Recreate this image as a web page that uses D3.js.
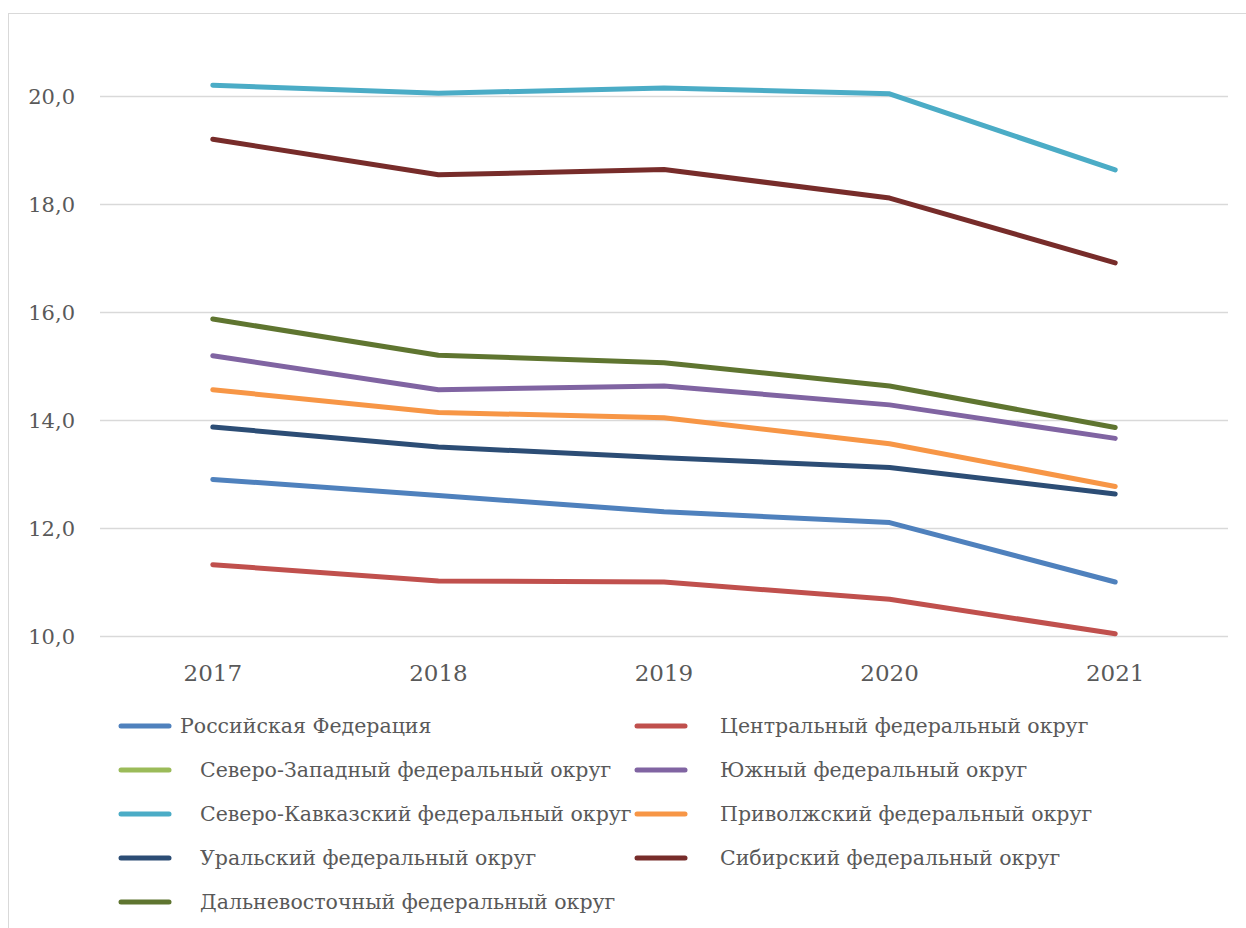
<!DOCTYPE html>
<html>
<head>
<meta charset="utf-8">
<script src="https://cdn.jsdelivr.net/npm/d3@7"></script>
<style>
  body { margin: 0; background: #fff; }
  text { font-family: "DejaVu Serif", serif; fill: #595959; }
</style>
</head>
<body>
<script>
var width = 1246, height = 928;

// data
var years = ['2017', '2018', '2019', '2020', '2021'];
var names = [
  'Российская Федерация',
  'Центральный федеральный округ',
  'Северо-Западный федеральный округ',
  'Южный федеральный округ',
  'Северо-Кавказский федеральный округ',
  'Приволжский федеральный округ',
  'Уральский федеральный округ',
  'Сибирский федеральный округ',
  'Дальневосточный федеральный округ'
];
var colors = ['#4f81bd', '#c0504d', '#9bbb59', '#8064a2', '#4bacc6', '#f79646', '#2c4d75', '#772c2a', '#5f7530'];
var rf      = [12.9, 12.6, 12.3, 12.1, 11.0];
var central = [11.32, 11.02, 11.0, 10.68, 10.04];
var nwest   = [];   // not shown on the chart
var south   = [15.19, 14.56, 14.63, 14.28, 13.66];
var ncauc   = [20.2, 20.05, 20.15, 20.04, 18.63];
var volga   = [14.56, 14.14, 14.04, 13.56, 12.77];
var ural    = [13.87, 13.5, 13.3, 13.12, 12.63];
var siber   = [19.2, 18.54, 18.64, 18.11, 16.91];
var fareast = [15.87, 15.2, 15.06, 14.63, 13.86];
var yTicks = [10, 12, 14, 16, 18, 20];

var series = [rf, central, nwest, south, ncauc, volga, ural, siber, fareast];

var svg = d3.select('body').append('svg')
  .attr('width', width)
  .attr('height', height);

// chart border
svg.append('rect')
  .attr('x', 8.5).attr('y', 13.5)
  .attr('width', 1260).attr('height', 940)
  .attr('fill', 'none')
  .attr('stroke', '#d9d9d9');

var x = d3.scalePoint().domain(years).range([100, 1228]).padding(0.5);
var y = d3.scaleLinear().domain([10, 20]).range([636, 96]);

// grid
svg.append('g').selectAll('line')
  .data(yTicks)
  .join('line')
    .attr('x1', 100).attr('x2', 1228)
    .attr('y1', d => y(d) + 0.5).attr('y2', d => y(d) + 0.5)
    .attr('stroke', '#d9d9d9')
    .attr('stroke-width', 1.5);

svg.append('g').selectAll('text')
  .data(yTicks)
  .join('text')
    .attr('x', 75)
    .attr('y', d => y(d) + 8)
    .attr('text-anchor', 'end')
    .style('font-size', '21px')
    .text(d => d3.format('.1f')(d).replace('.', ','));

svg.append('g').selectAll('text')
  .data(years)
  .join('text')
    .attr('x', d => x(d))
    .attr('y', 681)
    .attr('text-anchor', 'middle')
    .style('font-size', '23px')
    .text(d => d);

var line = d3.line()
  .x((d, i) => x(years[i]))
  .y(d => y(d));

svg.append('g').selectAll('path')
  .data(series.map((s, i) => ({values: s, color: colors[i]})).filter(d => d.values.length))
  .join('path')
    .attr('d', d => line(d.values))
    .attr('fill', 'none')
    .attr('stroke', d => d.color)
    .attr('stroke-width', 5)
    .attr('stroke-linecap', 'round')
    .attr('stroke-linejoin', 'round');

// legend, two columns
var legend = svg.append('g').selectAll('g')
  .data(names)
  .join('g')
    .attr('transform', (d, i) => {
      var col = i % 2, row = Math.floor(i / 2);
      return 'translate(' + (col ? 637 : 121) + ',' + (726 + row * 44) + ')';
    });

legend.append('line')
  .attr('x1', 0).attr('x2', 48)
  .attr('stroke', (d, i) => colors[i])
  .attr('stroke-width', 5)
  .attr('stroke-linecap', 'round');

legend.append('text')
  .attr('x', (d, i) => i === 0 ? 59 : (i % 2 ? 83 : 79))
  .attr('y', 7)
  .style('font-size', '20.5px')
  .text(d => d);
</script>
</body>
</html>
